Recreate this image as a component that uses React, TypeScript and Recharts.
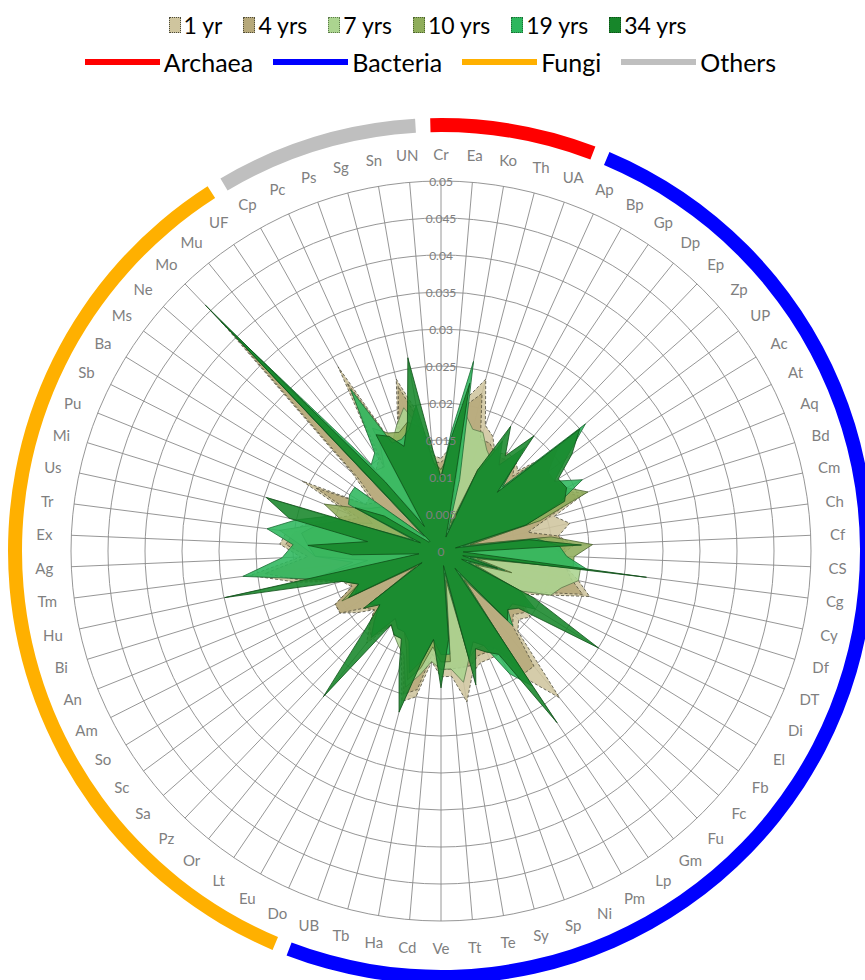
import React from 'react';
import { RadarChart, Radar, PolarGrid, PolarAngleAxis, PolarRadiusAxis, PieChart, Pie } from 'recharts';

// taxon abbreviations, clockwise from the top
const taxa = [
  'Cr', 'Ea', 'Ko', 'Th', 'UA',
  'Ap', 'Bp', 'Gp', 'Dp', 'Ep', 'Zp', 'UP', 'Ac', 'At', 'Aq', 'Bd', 'Cm', 'Ch', 'Cf', 'CS', 'Cg', 'Cy', 'Df', 'DT',
  'Di', 'El', 'Fb', 'Fc', 'Fu', 'Gm', 'Lp', 'Pm', 'Ni', 'Sp', 'Sy', 'Te', 'Tt', 'Ve', 'Cd', 'Ha', 'Tb', 'UB',
  'Do', 'Eu', 'Lt', 'Or', 'Pz', 'Sa', 'Sc', 'So', 'Am', 'An', 'Bi', 'Hu', 'Tm', 'Ag', 'Ex', 'Tr', 'Us', 'Mi',
  'Pu', 'Sb', 'Ba', 'Ms', 'Ne', 'Mo', 'Mu', 'UF',
  'Cp', 'Pc', 'Ps', 'Sg', 'Sn', 'UN',
];

const groupNames = ['Archaea', 'Bacteria', 'Fungi', 'Others'];
const groupSizes = [5, 37, 26, 6];
const groupColors = ['#ff0000', '#0000ff', '#ffb000', '#bfbfbf'];

const radialTicks = [0, 0.005, 0.01, 0.015, 0.02, 0.025, 0.03, 0.035, 0.04, 0.045, 0.05];

// relative abundance per stand age
const yr1 = [
  0.0125, 0.014, 0.021, 0.024, 0.018,
  0.017, 0.015, 0.016, 0.016, 0.015, 0.020, 0.018, 0.017, 0.018, 0.021, 0.016, 0.0178, 0.016, 0.018, 0.016, 0.017, 0.019, 0.021, 0.016,
  0.013, 0.013, 0.015, 0.014, 0.015, 0.0255, 0.021, 0.016, 0.016, 0.016, 0.017, 0.0207, 0.017, 0.017, 0.015, 0.020, 0.021, 0.016,
  0.013, 0.013, 0.012, 0.016, 0.014, 0.012, 0.014, 0.016, 0.016, 0.013, 0.014, 0.020, 0.026, 0.019, 0.0218, 0.021, 0.018, 0.015,
  0.013, 0.021, 0.012, 0.012, 0.016, 0.043, 0.014, 0.015,
  0.0285, 0.016, 0.0175, 0.024, 0.019, 0.013,
];
const yr4 = [
  0.012, 0.013, 0.020, 0.022, 0.016,
  0.016, 0.015, 0.015, 0.016, 0.014, 0.020, 0.017, 0.016, 0.018, 0.020, 0.015, 0.012, 0.016, 0.017, 0.016, 0.017, 0.018, 0.020, 0.015,
  0.012, 0.013, 0.014, 0.013, 0.014, 0.020, 0.020, 0.015, 0.015, 0.015, 0.016, 0.016, 0.016, 0.016, 0.014, 0.019, 0.020, 0.015,
  0.013, 0.012, 0.012, 0.015, 0.014, 0.012, 0.013, 0.016, 0.016, 0.013, 0.013, 0.019, 0.024, 0.018, 0.021, 0.020, 0.017, 0.014,
  0.012, 0.019, 0.012, 0.011, 0.015, 0.041, 0.013, 0.014,
  0.026, 0.016, 0.017, 0.023, 0.018, 0.012,
];
const yr7 = [
  0.011, 0.013, 0.019, 0.017, 0.017,
  0.015, 0.014, 0.014, 0.015, 0.011, 0.018, 0.016, 0.016, 0.017, 0.017, 0.013, 0.004, 0.014, 0.015, 0.017, 0.019, 0.019, 0.017, 0.016,
  0.012, 0.012, 0.012, 0.012, 0.013, 0.005, 0.017, 0.014, 0.014, 0.014, 0.015, 0.018, 0.016, 0.016, 0.015, 0.017, 0.019, 0.015,
  0.014, 0.013, 0.012, 0.014, 0.013, 0.011, 0.012, 0.004, 0.013, 0.012, 0.013, 0.017, 0.012, 0.017, 0.019, 0.022, 0.017, 0.013,
  0.010, 0.012, 0.011, 0.010, 0.003, 0.036, 0.014, 0.0137,
  0.017, 0.016, 0.018, 0.020, 0.017, 0.012,
];
const yr10 = [
  0.011, 0.013, 0.020, 0.006, 0.004,
  0.012, 0.016, 0.014, 0.017, 0.012, 0.021, 0.018, 0.018, 0.019, 0.0214, 0.014, 0.004, 0.015, 0.0205, 0.018, 0.018, 0.005, 0.010, 0.005,
  0.012, 0.014, 0.012, 0.012, 0.013, 0.005, 0.019, 0.015, 0.014, 0.013, 0.015, 0.004, 0.015, 0.015, 0.013, 0.016, 0.018, 0.014,
  0.012, 0.012, 0.011, 0.015, 0.013, 0.011, 0.012, 0.004, 0.015, 0.012, 0.013, 0.018, 0.010, 0.017, 0.018, 0.019, 0.017, 0.014,
  0.017, 0.013, 0.011, 0.010, 0.003, 0.038, 0.013, 0.005,
  0.019, 0.0175, 0.017, 0.018, 0.017, 0.012,
];
const yr19 = [
  0.010, 0.016, 0.026, 0.010, 0.003,
  0.011, 0.017, 0.014, 0.018, 0.012, 0.026, 0.021, 0.018, 0.0214, 0.017, 0.012, 0.003, 0.013, 0.016, 0.017, 0.020, 0.004, 0.009, 0.004,
  0.012, 0.015, 0.012, 0.012, 0.014, 0.004, 0.022, 0.019, 0.014, 0.013, 0.015, 0.003, 0.014, 0.014, 0.012, 0.015, 0.017, 0.013,
  0.012, 0.012, 0.011, 0.015, 0.013, 0.011, 0.012, 0.003, 0.013, 0.012, 0.014, 0.018, 0.027, 0.0215, 0.020, 0.0237, 0.020, 0.016,
  0.004, 0.014, 0.0145, 0.0145, 0.003, 0.043, 0.015, 0.016,
  0.025, 0.016, 0.016, 0.017, 0.020, 0.012,
];
const yr34 = [
  0.010, 0.015, 0.023, 0.004, 0.002,
  0.012, 0.0193, 0.0155, 0.020, 0.011, 0.025, 0.022, 0.0186, 0.019, 0.018, 0.012, 0.002, 0.012, 0.019, 0.003, 0.028, 0.003, 0.008, 0.003,
  0.014, 0.025, 0.013, 0.012, 0.013, 0.003, 0.028, 0.016, 0.015, 0.014, 0.0187, 0.002, 0.012, 0.0185, 0.012, 0.015, 0.0225, 0.017,
  0.013, 0.013, 0.012, 0.0253, 0.015, 0.011, 0.013, 0.003, 0.014, 0.012, 0.014, 0.0299, 0.003, 0.012, 0.018, 0.010, 0.021, 0.0247,
  0.003, 0.013, 0.009, 0.002, 0.002, 0.046, 0.012, 0.004,
  0.018, 0.017, 0.015, 0.018, 0.0265, 0.014,
];

const seriesNames = ['1 yr', '4 yrs', '7 yrs', '10 yrs', '19 yrs', '34 yrs'];
const seriesValues = [yr1, yr4, yr7, yr10, yr19, yr34];

const seriesStyle = [
  { fill: '#cfc59e', stroke: '#4b4a3c', dash: '3 2' },
  { fill: '#b6a87a', stroke: '#514d3a', dash: '3 2' },
  { fill: '#abd48f', stroke: '#5e7a4c', dash: undefined },
  { fill: '#8fad5b', stroke: '#4d6430', dash: undefined },
  { fill: '#2db75d', stroke: '#1d6b35', dash: undefined },
  { fill: '#17862a', stroke: '#0f4f18', dash: undefined },
];

const W = 865;
const H = 980;
const CX = 441;
const CY = 551;
const R = 370;
const LABEL_R = 397;
const STEP = 360 / taxa.length;
const RMAX = radialTicks[radialTicks.length - 1];

const rows = taxa.map((taxon, i) => {
  const row: Record<string, string | number> = { taxon };
  seriesValues.forEach((vals, s) => {
    row['s' + s] = vals[i];
  });
  return row;
});

const AngleTick = ({ payload }: any) => {
  const a = (payload.coordinate * Math.PI) / 180;
  return (
    <text
      x={CX + LABEL_R * Math.cos(a)}
      y={CY - LABEL_R * Math.sin(a)}
      textAnchor="middle"
      dominantBaseline="central"
      fill="#7f7f7f"
      fontSize={15}
      fontFamily="Lato, 'Open Sans', sans-serif"
    >
      {payload.value}
    </text>
  );
};

const RadiusTick = ({ x, y, payload }: any) => (
  <text
    x={x}
    y={y}
    textAnchor="middle"
    dominantBaseline="central"
    fill="#808080"
    fontSize={12}
    fontFamily="Lato, 'Open Sans', sans-serif"
  >
    {parseFloat(Number(payload.value).toFixed(3)).toString()}
  </text>
);

// group arcs around the outside, one sector per kingdom
const GAP = 1;
const groupArcs = groupNames.map((name, g) => {
  const first = groupSizes.slice(0, g).reduce((a, b) => a + b, 0);
  const start = 90 + STEP / 2 - first * STEP - GAP;
  const end = 90 + STEP / 2 - (first + groupSizes[g]) * STEP + GAP;
  return { name, size: groupSizes[g], color: groupColors[g], start, end };
});

export default function App() {
  return (
    <div
      style={{
        position: 'absolute',
        left: 0,
        top: 0,
        width: W,
        height: H,
        background: '#fff',
        fontFamily: "Lato, 'Open Sans', sans-serif",
        color: '#000',
        overflow: 'hidden',
      }}
    >
      <div
        style={{
          position: 'absolute',
          top: 9,
          left: 0,
          width: W - 10,
          display: 'flex',
          justifyContent: 'center',
          gap: 21,
          fontSize: 23,
          lineHeight: '32px',
        }}
      >
        {seriesNames.map((name, s) => (
          <div key={name} style={{ display: 'flex', alignItems: 'center' }}>
            <span
              style={{
                display: 'inline-block',
                width: 12,
                height: 16,
                marginRight: 3,
                boxSizing: 'border-box',
                background: seriesStyle[s].fill,
                border: `1px dotted ${seriesStyle[s].stroke}`,
              }}
            />
            {name}
          </div>
        ))}
      </div>
      <div
        style={{
          position: 'absolute',
          top: 46,
          left: 0,
          width: W - 4,
          display: 'flex',
          justifyContent: 'center',
          gap: 20,
          fontSize: 25,
          lineHeight: '32px',
        }}
      >
        {groupNames.map((name, g) => (
          <div key={name} style={{ display: 'flex', alignItems: 'center' }}>
            <span
              style={{ display: 'inline-block', width: 75, height: 6, marginRight: 4, background: groupColors[g] }}
            />
            {name}
          </div>
        ))}
      </div>

      <div style={{ position: 'absolute', left: 0, top: 0 }}>
        <PieChart width={W} height={H} margin={{ top: 0, right: 0, bottom: 0, left: 0 }}>
          {groupArcs.map((arc) => (
            <Pie
              key={arc.name}
              data={[arc]}
              dataKey="size"
              nameKey="name"
              cx={CX}
              cy={CY}
              innerRadius={419}
              outerRadius={433}
              startAngle={arc.start}
              endAngle={arc.end}
              fill={arc.color}
              stroke="none"
              isAnimationActive={false}
            />
          ))}
        </PieChart>
      </div>

      <div style={{ position: 'absolute', left: 0, top: 0 }}>
        <RadarChart
          width={W}
          height={H}
          cx={CX}
          cy={CY}
          outerRadius={R}
          data={rows}
          startAngle={90}
          endAngle={-270}
          margin={{ top: 0, right: 0, bottom: 0, left: 0 }}
        >
          <PolarGrid
            gridType="circle"
            stroke="#8a8a8a"
            strokeWidth={0.9}
            polarRadius={radialTicks.map((v) => (v / RMAX) * R)}
          />
          <PolarAngleAxis dataKey="taxon" tick={<AngleTick />} tickLine={false} axisLine={false} />
          {seriesNames.map((name, s) => (
            <Radar
              key={name}
              name={name}
              dataKey={'s' + s}
              fill={seriesStyle[s].fill}
              fillOpacity={0.88}
              stroke={seriesStyle[s].stroke}
              strokeWidth={0.8}
              strokeDasharray={seriesStyle[s].dash}
              isAnimationActive={false}
            />
          ))}
          <PolarRadiusAxis
            angle={90}
            type="number"
            domain={[0, RMAX]}
            ticks={radialTicks}
            axisLine={false}
            tickLine={false}
            tick={<RadiusTick />}
          />
        </RadarChart>
      </div>
    </div>
  );
}
